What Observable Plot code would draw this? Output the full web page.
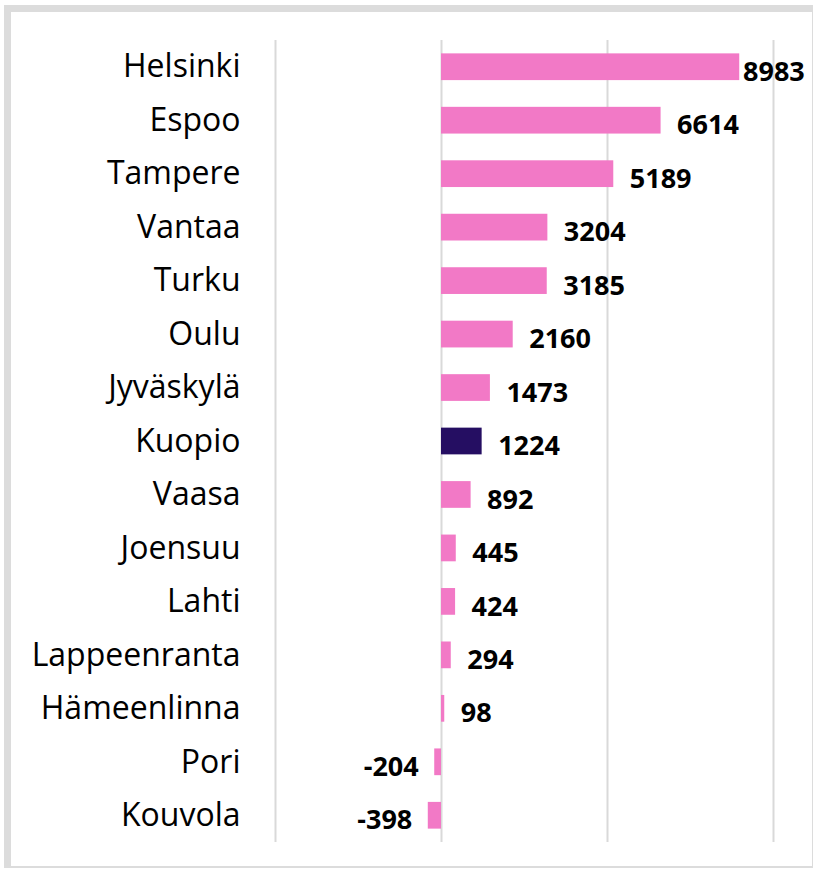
<!DOCTYPE html>
<html>
<head>
<meta charset="utf-8">
<script src="https://cdn.jsdelivr.net/npm/d3@7"></script>
<script src="https://cdn.jsdelivr.net/npm/@observablehq/plot@0.6"></script>
<style>
  html, body { margin: 0; padding: 0; background: #fff; }
  #wrap { position: relative; width: 815px; height: 871px; overflow: hidden; }
  #frame { position: absolute; left: 4px; top: 5px; width: 809px; height: 863px;
           border-left: 7px solid #dcdcdc; border-top: 7px solid #dcdcdc;
           border-right: 1px solid #dcdcdc; border-bottom: 2px solid #dcdcdc; box-sizing: border-box; }
  #chart { position: absolute; left: 0; top: 0; }
</style>
</head>
<body>
<div id="wrap"><div id="frame"></div><div id="chart"></div></div>
<script>
const cities = ["Helsinki","Espoo","Tampere","Vantaa","Turku","Oulu","Jyväskylä","Kuopio","Vaasa","Joensuu","Lahti","Lappeenranta","Hämeenlinna","Pori","Kouvola"];
const values = [8983, 6614, 5189, 3204, 3185, 2160, 1473, 1224, 892, 445, 424, 294, 98, -204, -398];
const highlight = "Kuopio";
const gridTicks = [-5000, 0, 5000, 10000];

const data = cities.map((c, i) => ({city: c, value: values[i]}));
const pos = data.filter(d => d.value >= 0);
const neg = data.filter(d => d.value < 0);
const labelCap = 8600;

const chart = Plot.plot({
  width: 815,
  height: 871,
  marginLeft: 275,
  marginRight: 42,
  marginTop: 40,
  marginBottom: 29,
  style: {fontFamily: "Open Sans, sans-serif", background: "transparent"},
  x: {domain: [-5000, 10000], axis: null},
  y: {domain: cities, paddingInner: 0.5, paddingOuter: 0.25, round: false, axis: null},
  marks: [
    Plot.ruleX(gridTicks, {stroke: "#d9d9d9", strokeWidth: 2}),
    Plot.barX(data, {y: "city", x: "value", fill: d => d.city === highlight ? "#250e62" : "#f279c6"}),
    Plot.text(pos, {y: "city", x: d => Math.min(d.value, labelCap), text: d => String(d.value),
      textAnchor: "start", dx: 16, dy: 5, fontSize: 27, fontWeight: "bold", fill: "#000"}),
    Plot.text(neg, {y: "city", x: "value", text: d => String(d.value),
      textAnchor: "end", dx: -16, dy: 5, fontSize: 27, fontWeight: "bold", fill: "#000"}),
    Plot.axisY({tickSize: 0, tickPadding: 35, fontSize: 32, fontWeight: 400, label: null, fill: "#000"})
  ]
});
document.getElementById("chart").appendChild(chart);
</script>
</body>
</html>
